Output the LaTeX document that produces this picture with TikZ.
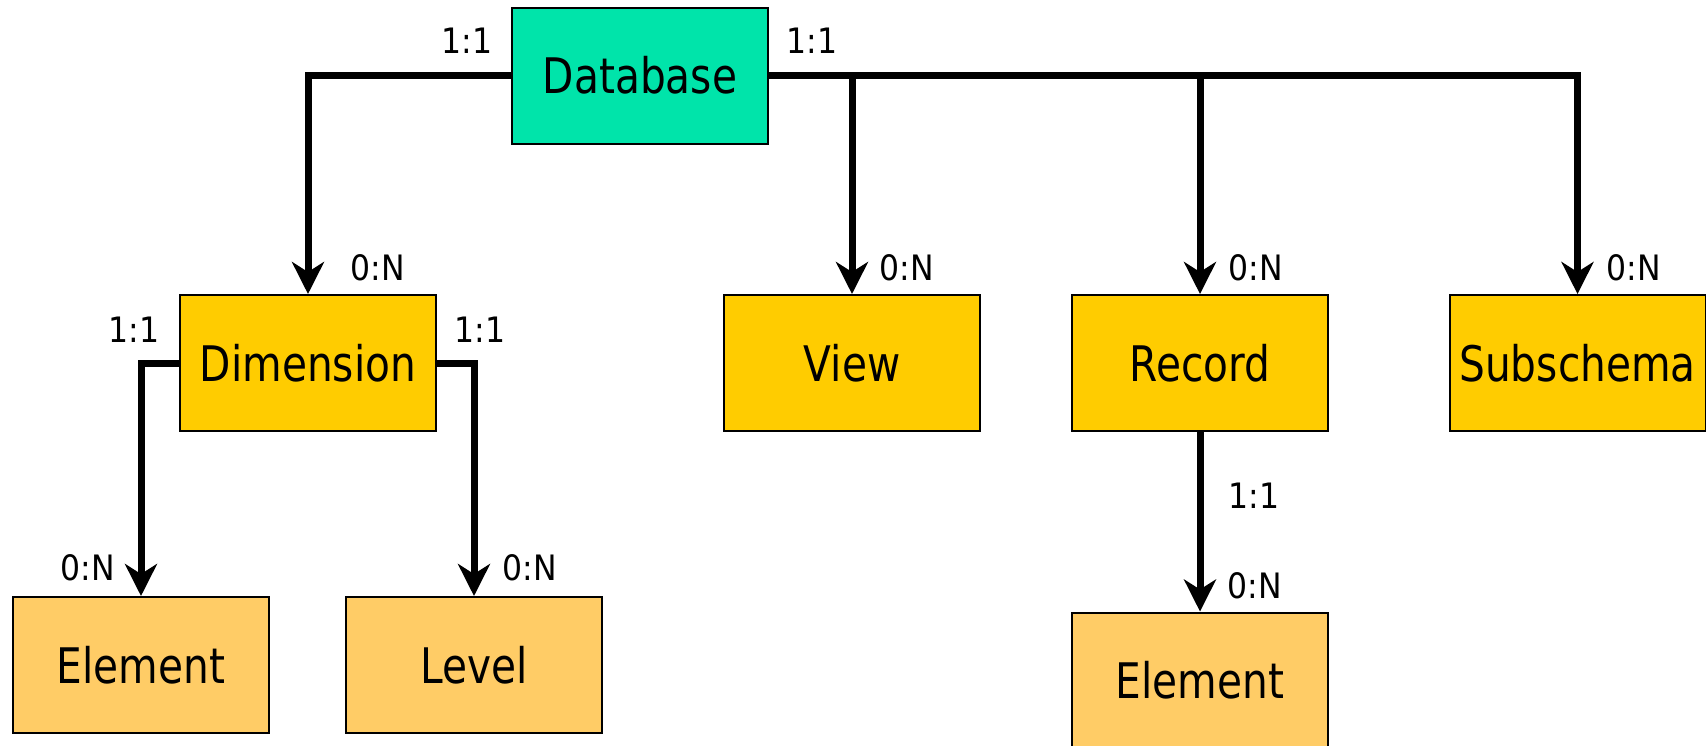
\documentclass[tikz,border=0pt]{standalone}
\usepackage{fontspec}
\setmainfont{DejaVu Sans}[FakeStretch=0.9]
\newfontfamily\boxfont{DejaVu Sans}[FakeStretch=0.83]
\usetikzlibrary{arrows.meta, positioning, calc}

\definecolor{dbgreen}{RGB}{0,228,170}
\definecolor{entyellow}{RGB}{255,204,0}
\definecolor{leafyellow}{RGB}{255,204,102}

\begin{document}
\begin{tikzpicture}[
    x=0.5pt, y=-0.5pt,
    box/.style={rectangle, draw=black, line width=1pt, minimum width=128pt,
      minimum height=68pt, inner sep=0pt, font=\boxfont\fontsize{24.5}{29}\selectfont, fill=entyellow},
    rootbox/.style={box, fill=dbgreen},
    leafbox/.style={box, fill=leafyellow},
    card/.style={font=\fontsize{17.5}{21}\selectfont, inner sep=0pt},
    link/.style={-{Stealth[length=16pt, width=16pt, inset=5pt]}, line width=3.5pt},
  ]
  \useasboundingbox (0,0) rectangle (1706,745);

  \node[rootbox] (db)   at (640,75.5)  {Database};
  \node[box]     (dim)  at (308,363)   {Dimension};
  \node[box]     (view) at (852,363)   {View};
  \node[box]     (rec)  at (1200,363)  {Record};
  \node[box]     (sub)  at (1577.5,363) {Subschema};
  \node[leafbox] (elA)  at (141,665)   {Element};
  \node[leafbox] (lev)  at (474,665)   {Level};
  \node[leafbox] (elB)  at (1200,680.5) {Element};

  % cardinalities
  \node[card] (dbL)   at (467,41)    {1:1};
  \node[card] (dbR)   at (812,41)    {1:1};
  \node[card] (dimN)  at (378,267.5) {0:N};
  \node[card] (viewN) at (907,267.5) {0:N};
  \node[card] (recN)  at (1255.5,267.5) {0:N};
  \node[card] (subN)  at (1634,267.5) {0:N};
  \node[card] (dimL)  at (134,330)   {1:1};
  \node[card] (dimR)  at (480,330)   {1:1};
  \node[card] (elAN)  at (88,568)    {0:N};
  \node[card] (levN)  at (530,568)   {0:N};
  \node[card] (recO)  at (1254,495.5) {1:1};
  \node[card] (elBN)  at (1255,586)  {0:N};

  \draw[link] (db.west) -| (dim);
  \draw[link] (db.east) -| (sub);
  \draw[link] (view |- db.east) -- (view);
  \draw[link] (rec |- db.east) -- (rec);
  \draw[link] (dim.west) -| (elA);
  \draw[link] (dim.east) -| (lev);
  \draw[link] (rec) -- (elB);
\end{tikzpicture}
\end{document}
